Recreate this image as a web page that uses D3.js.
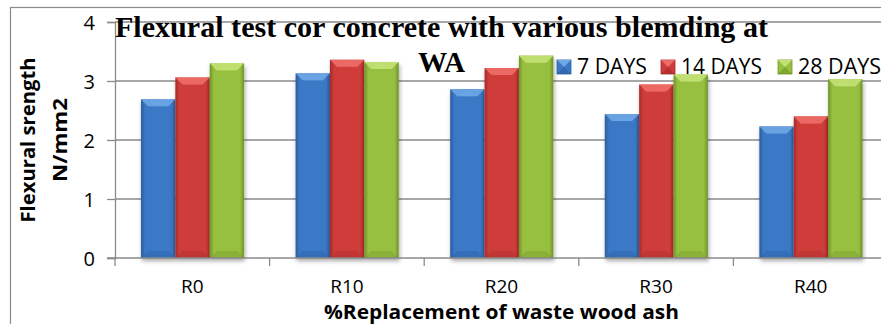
<!DOCTYPE html>
<html>
<head>
<meta charset="utf-8">
<script src="https://cdn.jsdelivr.net/npm/d3@7/dist/d3.min.js"></script>
<style>
  html, body { margin: 0; padding: 0; background: #fff; overflow: hidden; }
  svg { display: block; }
</style>
</head>
<body>
<svg id="chart" width="881" height="324"></svg>
<script>
// ---- data ----
const categories = ["R0", "R10", "R20", "R30", "R40"];
const seriesNames = ["7 DAYS", "14 DAYS", "28 DAYS"];
const days7  = [2.69, 3.13, 2.86, 2.44, 2.23];
const days14 = [3.06, 3.36, 3.22, 2.94, 2.40];
const days28 = [3.30, 3.32, 3.43, 3.11, 3.03];
const yTicks = [0, 1, 2, 3, 4];
const titleLines = ["Flexural test cor concrete with various blemding at", "WA"];
const yTitleLines = ["Flexural srength", "N/mm2"];
const xTitle = "%Replacement of waste wood ash";

const seriesValues = [days7, days14, days28];
const palette = [
  { base: "#3b78c6", light: "#6ea6e6", dark: "#2a5c9e" },
  { base: "#cf3c3b", light: "#ee6b69", dark: "#a52a29" },
  { base: "#98c041", light: "#c2e274", dark: "#6f9327" }
];

const svg = d3.select("#chart");
const defs = svg.append("defs");

palette.forEach((p, i) => {
  const g = defs.append("linearGradient").attr("id", "grad" + i)
    .attr("x1", "0").attr("x2", "1").attr("y1", "0").attr("y2", "0");
  g.append("stop").attr("offset", "0").attr("stop-color", p.dark);
  g.append("stop").attr("offset", "0.12").attr("stop-color", p.base);
  g.append("stop").attr("offset", "0.88").attr("stop-color", p.base);
  g.append("stop").attr("offset", "1").attr("stop-color", p.dark);
});
const shadow = defs.append("filter").attr("id", "shadow")
  .attr("x", "-20%").attr("y", "-5%").attr("width", "140%").attr("height", "115%");
shadow.append("feGaussianBlur").attr("in", "SourceAlpha").attr("stdDeviation", 2);
shadow.append("feOffset").attr("dx", 1).attr("dy", 3).attr("result", "ob");
shadow.append("feComponentTransfer").append("feFuncA").attr("type", "linear").attr("slope", 0.35);
const merge = shadow.append("feMerge");
merge.append("feMergeNode");
merge.append("feMergeNode").attr("in", "SourceGraphic");

// ---- scales ----
const y = d3.scaleLinear().domain([0, 4]).range([258, 22]);
const x0 = d3.scaleBand().domain(categories).range([115, 888]);
const bw = x0.bandwidth();
const x1 = d3.scaleBand().domain(seriesNames).range([bw * 0.168, bw * 0.835]);

const grid = "#8a8a8a";

// outer frame
svg.append("rect").attr("x", 10.5).attr("y", 7.5).attr("width", 1000).attr("height", 500)
  .attr("fill", "none").attr("stroke", grid).attr("stroke-width", 1.2);

// gridlines
svg.append("g").selectAll("line").data(yTicks.filter(d => d > 0)).join("line")
  .attr("x1", 115).attr("x2", 881)
  .attr("y1", d => y(d)).attr("y2", d => y(d))
  .attr("stroke", grid).attr("stroke-width", 1.3);

// y axis
const yAxis = svg.append("g").attr("transform", "translate(115,0)")
  .call(d3.axisLeft(y).tickValues(yTicks).tickSize(8).tickPadding(12).tickFormat(d3.format("d")));
yAxis.select(".domain").attr("stroke", grid).attr("stroke-width", 1.3);
yAxis.selectAll(".tick line").attr("stroke", grid).attr("stroke-width", 1.3);
yAxis.selectAll(".tick text").attr("font-family", "'Open Sans', sans-serif")
  .attr("font-size", 20).attr("fill", "#000").attr("dy", "0.36em");

// bars
const barG = svg.append("g");
categories.forEach((c, ci) => {
  seriesNames.forEach((s, si) => {
    const v = seriesValues[si][ci];
    const bx = x0(c) + x1(s);
    const w = x1.bandwidth();
    const top = y(v), bot = y(0);
    const p = palette[si];
    const g = barG.append("g").attr("filter", "url(#shadow)");
    g.append("rect").attr("x", bx).attr("y", top).attr("width", w).attr("height", bot - top)
      .attr("fill", `url(#grad${si})`);
    const b = 7;
    g.append("path")
      .attr("d", `M${bx},${top} L${bx + w},${top} L${bx + w - b},${top + b} L${bx + b},${top + b} Z`)
      .attr("fill", p.light).attr("opacity", 0.9);
    g.append("path")
      .attr("d", `M${bx + w / 2},${top + b} L${bx + b},${top + b} L${bx + w / 2},${top + 1} L${bx + w - b},${top + b} Z`)
      .attr("fill", p.light).attr("opacity", 0.5);
    g.append("path")
      .attr("d", `M${bx},${bot} L${bx + w},${bot} L${bx + w - b},${bot - b} L${bx + b},${bot - b} Z`)
      .attr("fill", p.dark).attr("opacity", 0.35);
  });
});

// x axis
svg.append("line").attr("x1", 107).attr("x2", 881).attr("y1", y(0)).attr("y2", y(0))
  .attr("stroke", grid).attr("stroke-width", 1.3);
const boundaries = categories.map(c => x0(c)).concat([x0.range()[1]]);
svg.append("g").selectAll("line").data(boundaries).join("line")
  .attr("x1", d => d).attr("x2", d => d).attr("y1", y(0)).attr("y2", y(0) + 8)
  .attr("stroke", grid).attr("stroke-width", 1.3);
const xAxis = svg.append("g").attr("transform", `translate(0,${y(0)})`)
  .call(d3.axisBottom(x0).tickSize(0).tickPadding(0));
xAxis.select(".domain").remove();
xAxis.selectAll(".tick text").attr("font-family", "'Open Sans', sans-serif")
  .attr("font-size", 19).attr("fill", "#000").attr("y", 35).attr("dy", 0);

// x title
svg.append("text").attr("x", (x0.range()[0] + x0.range()[1]) / 2).attr("y", 318.5)
  .attr("text-anchor", "middle").attr("font-family", "'Open Sans', sans-serif")
  .attr("font-weight", "bold").attr("font-size", 20)
  .attr("textLength", 355).attr("lengthAdjust", "spacingAndGlyphs")
  .text(xTitle);

// y title
const yTitleSpecs = [{ x: 35, len: 165 }, { x: 67, len: 84 }];
yTitleLines.forEach((t, i) => {
  svg.append("text")
    .attr("transform", `translate(${yTitleSpecs[i].x},140) rotate(-90)`)
    .attr("text-anchor", "middle").attr("font-family", "'Open Sans', sans-serif")
    .attr("font-weight", "bold").attr("font-size", 20)
    .attr("textLength", yTitleSpecs[i].len).attr("lengthAdjust", "spacingAndGlyphs")
    .text(t);
});

// title
const titleSpecs = [{ y: 37, len: 653 }, { y: 72, len: 47 }];
titleLines.forEach((t, i) => {
  svg.append("text").attr("x", 441.5).attr("y", titleSpecs[i].y)
    .attr("text-anchor", "middle").attr("font-family", "'Liberation Serif', 'Times New Roman', serif")
    .attr("font-weight", "bold").attr("font-size", 30)
    .attr("textLength", titleSpecs[i].len).attr("lengthAdjust", "spacingAndGlyphs")
    .text(t);
});

// legend
const legendX = [557, 661, 778];
const legendLen = [70, 81, 83];
const legend = svg.append("g");
seriesNames.forEach((s, i) => {
  const lx = legendX[i];
  const p = palette[i];
  const g = legend.append("g");
  g.append("rect").attr("x", lx).attr("y", 60).attr("width", 14).attr("height", 14)
    .attr("fill", p.base).attr("stroke", p.dark).attr("stroke-width", 0.8);
  g.append("path").attr("d", `M${lx},${60} L${lx + 14},${60} L${lx + 7},${67} Z`).attr("fill", p.light);
  g.append("path").attr("d", `M${lx},${74} L${lx + 14},${74} L${lx + 7},${67} Z`).attr("fill", p.dark).attr("opacity", 0.6);
  g.append("text").attr("x", lx + 20).attr("y", 74)
    .attr("font-family", "'Open Sans', sans-serif").attr("font-size", 21).attr("fill", "#000")
    .attr("textLength", legendLen[i]).attr("lengthAdjust", "spacingAndGlyphs")
    .text(s);
});
</script>
</body>
</html>
